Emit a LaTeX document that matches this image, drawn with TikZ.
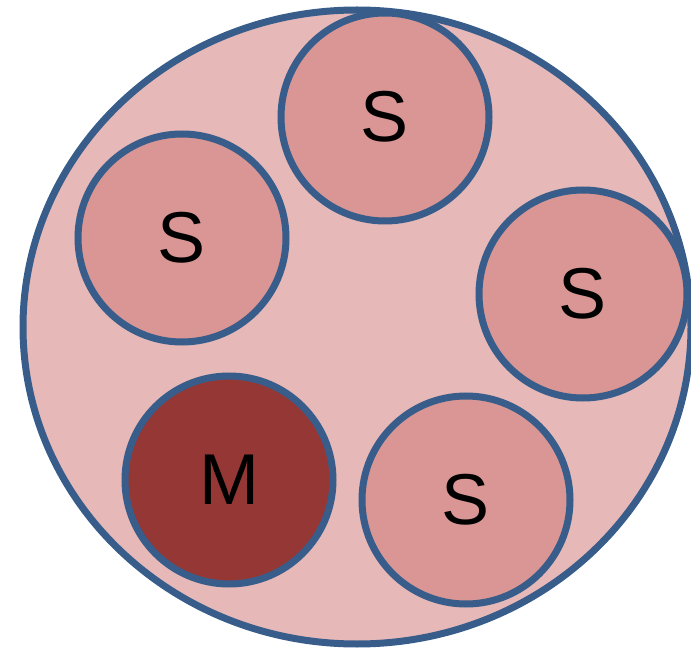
\documentclass[tikz,border=0pt]{standalone}
\usepackage{fontspec}
\setmainfont{Liberation Sans}
\usepackage{xcolor}
\usetikzlibrary{shapes.geometric}

\definecolor{rim}{HTML}{385D8A}
\definecolor{outerfill}{HTML}{E6B9B8}
\definecolor{slavefill}{HTML}{D99694}
\definecolor{masterfill}{HTML}{953735}

\begin{document}
\begin{tikzpicture}[
  x=1pt, y=-1pt,
  every node/.style={font=\fontsize{72}{76}\selectfont, align=center},
  group/.style={draw=rim, line width=7pt, fill=outerfill, ellipse, minimum width=668pt, minimum height=634pt, inner sep=0pt},
  slave/.style={draw=rim, line width=7pt, fill=slavefill, circle, minimum size=208pt, inner sep=0pt},
  master/.style={draw=rim, line width=7pt, fill=masterfill, circle, minimum size=208pt, inner sep=0pt}
]
\useasboundingbox (0,0) rectangle (691,652);
\node[group] (cluster) at (357,327) {};
\node[slave] (top) at (385,117) {S};
\node[slave] (left) at (182,238) {S};
\node[slave] (right) at (583,294) {S};
\node[master] (main) at (229,480) {M};
\node[slave] (bottom) at (466,500) {S};
\end{tikzpicture}
\end{document}
